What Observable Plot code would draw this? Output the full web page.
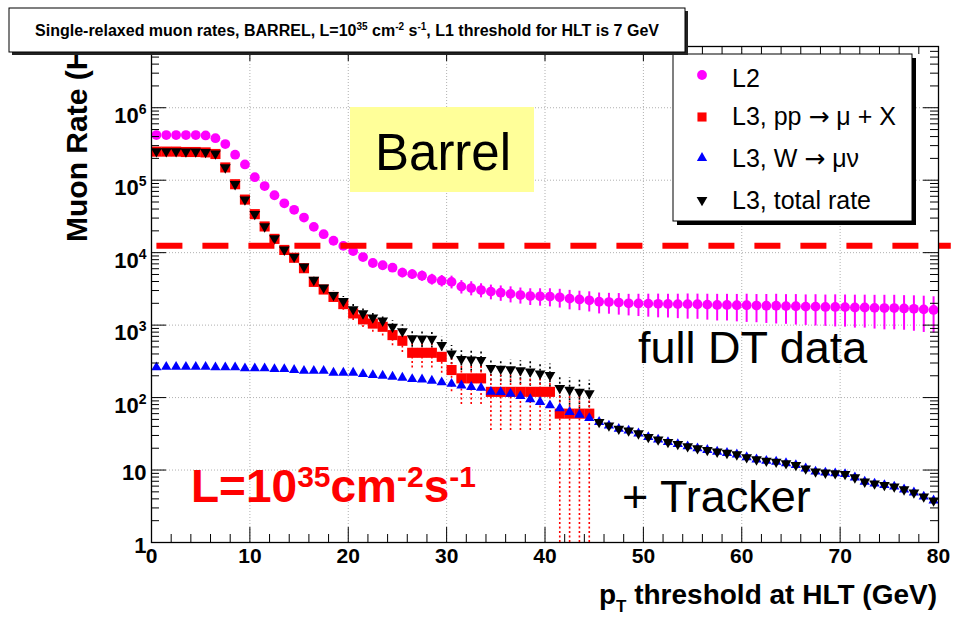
<!DOCTYPE html>
<html><head><meta charset="utf-8">
<script src="https://cdn.jsdelivr.net/npm/d3@7"></script>
<script src="https://cdn.jsdelivr.net/npm/@observablehq/plot@0.6"></script>
<style>
html,body{margin:0;padding:0;background:#fff;}
#chart{width:955px;height:620px;position:relative;}
</style></head><body><div id="chart"></div>
<script>
// ---------- data ----------
const ptBinCenters = [0.5,1.5,2.5,3.5,4.5,5.5,6.5,7.5,8.5,9.5,
  10.5,11.5,12.5,13.5,14.5,15.5,16.5,17.5,18.5,19.5,
  20.5,21.5,22.5,23.5,24.5,25.5,26.5,27.5,28.5,29.5,
  30.5,31.5,32.5,33.5,34.5,35.5,36.5,37.5,38.5,39.5,
  40.5,41.5,42.5,43.5,44.5,45.5,46.5,47.5,48.5,49.5,
  50.5,51.5,52.5,53.5,54.5,55.5,56.5,57.5,58.5,59.5,
  60.5,61.5,62.5,63.5,64.5,65.5,66.5,67.5,68.5,69.5,
  70.5,71.5,72.5,73.5,74.5,75.5,76.5,77.5,78.5,79.5];

// L2 rate (Hz)
const l2Rate = [4.2e5,4.2e5,4.2e5,4.2e5,4.2e5,4.15e5,3.8e5,3.15e5,2.25e5,1.65e5,
  1.1e5,8.3e4,6.2e4,4.8e4,3.9e4,3.05e4,2.27e4,1.8e4,1.46e4,1.24e4,
  1.05e4,8.7e3,7.2e3,6.7e3,6.2e3,5.3e3,5.05e3,4.8e3,4.3e3,4.1e3,
  3.95e3,3.4e3,3.25e3,3.05e3,2.9e3,2.8e3,2.7e3,2.6e3,2.52e3,2.5e3,
  2.48e3,2.42e3,2.32e3,2.26e3,2.2e3,2.1e3,2.08e3,2.05e3,2.0e3,1.99e3,
  1.98e3,1.97e3,1.96e3,1.95e3,1.95e3,1.94e3,1.92e3,1.9e3,1.9e3,1.88e3,
  1.88e3,1.86e3,1.85e3,1.85e3,1.83e3,1.82e3,1.8e3,1.8e3,1.78e3,1.78e3,
  1.77e3,1.75e3,1.75e3,1.73e3,1.72e3,1.72e3,1.7e3,1.68e3,1.65e3,1.62e3];
// L2 relative error
const l2RelErr = [0.02,0.02,0.02,0.02,0.02,0.02,0.02,0.02,0.02,0.02,
  0.04,0.05,0.05,0.06,0.06,0.07,0.08,0.09,0.1,0.1,
  0.11,0.12,0.13,0.13,0.14,0.15,0.15,0.16,0.17,0.18,
  0.2,0.21,0.22,0.22,0.23,0.24,0.25,0.25,0.26,0.27,
  0.28,0.29,0.3,0.3,0.31,0.32,0.32,0.33,0.33,0.34,
  0.35,0.36,0.36,0.37,0.38,0.38,0.39,0.4,0.4,0.41,
  0.42,0.42,0.43,0.44,0.44,0.45,0.45,0.46,0.46,0.47,
  0.47,0.48,0.48,0.49,0.5,0.5,0.5,0.51,0.52,0.52];

// L3, pp -> mu + X (bins 0..44)
const ppRate = [2.48e5,2.48e5,2.48e5,2.45e5,2.45e5,2.42e5,2.3e5,1.5e5,8.8e4,5.4e4,
  3.4e4,2.3e4,1.55e4,1.09e4,8.5e3,6.1e3,3.95e3,3.1e3,2.45e3,1.95e3,
  1.45e3,1.2e3,1.05e3,948,728,608,415,415,415,365,
  240,184,184,184,120,120,120,120,120,120,
  120,60,60,60,60];
const ppErr = [3900,3900,3900,3850,3850,3800,3700,3000,2300,1800,
  1430,1170,960,810,710,600,490,430,380,340,
  295,270,250,240,210,190,160,160,160,148,
  120,104,104,104,85,85,85,85,85,85,
  85,60,60,60,60];

// L3, W -> mu nu
const wRate = [261,266,266,266,266,266,261,261,261,253,
  253,253,247,247,240,234,234,234,220,220,
  220,211,204,200,194,188,180,178,171,162,
  155,147,140,136,120,119,113,105,95,87,
  78,71,63,58,52,46,41,37,35,32,
  28.5,26.3,24.3,22.8,21.2,19.9,18.9,17.9,17.2,16.4,
  15.0,14.0,13.4,13.0,12.4,11.7,10.5,9.5,9.2,9.0,
  8.8,7.9,6.9,6.5,6.2,5.9,5.4,4.9,4.3,3.8];

// L3, total rate
const totalRate = [2.5e5,2.5e5,2.5e5,2.48e5,2.48e5,2.45e5,2.33e5,1.5e5,8.8e4,5.4e4,
  3.4e4,2.3e4,1.57e4,1.1e4,8.75e3,6.4e3,4.2e3,3.3e3,2.6e3,2.15e3,
  1.65e3,1.45e3,1.27e3,1.15e3,948,820,655,650,645,530,
  405,340,335,330,255,250,245,238,228,215,
  205,135,128,120,114,46,41,37,35,32,
  28.5,26.3,24.3,22.8,21.2,19.9,18.9,17.9,17.2,16.4,
  15.0,14.0,13.4,13.0,12.4,11.7,10.5,9.5,9.2,9.0,
  8.8,7.9,6.9,6.5,6.2,5.9,5.4,4.9,4.3,3.8];

// dashed threshold line
const thresholdRate = [1.25e4];
const thresholdExtent = [0.55, 81.3];

// axis ticks
const xMajor = [0,10,20,30,40,50,60,70,80];
const yMajor = [1,10,1e2,1e3,1e4,1e5,1e6];
const yTickLabels = ["1","10","10^2","10^3","10^4","10^5","10^6"];
const xMinor = [];
for (let v = 0; v <= 80; v += 2) if (v % 10) xMinor.push(v);
const yMinor = [];
for (const d of yMajor) for (let k = 2; k <= 9; k++) if (d*k <= 7e6) yMinor.push(d*k);

// legend
const legendLabels = [["L2"], ["L3, pp ", "\u2192", " \u03bc + X"], ["L3, W ", "\u2192", " \u03bc\u03bd"], ["L3, total rate"]];
const legendColors = ["#ff00ff", "#ff0000", "#0000ff", "#000000"];

// ---------- tables ----------
const l2Data = l2Rate.map((y, i) => ({x: ptBinCenters[i], y, lo: y*(1-l2RelErr[i]), hi: y*(1+l2RelErr[i])}));
const ppData = ppRate.map((y, i) => ({x: ptBinCenters[i], y, lo: Math.max(y-ppErr[i], 1), hi: y+ppErr[i]}));
const wData = wRate.map((y, i) => ({x: ptBinCenters[i], y}));
const totData = totalRate.map((y, i) => ({x: ptBinCenters[i], y}));
const totErrData = ppErr.map((e, i) => ({x: ptBinCenters[i], lo: Math.max(totalRate[i]-e, 1), hi: totalRate[i]+e}));

// ---------- plot ----------
const W = 955, H = 620, mL = 151, mR = 17, mT = 46, mB = 78;
const fw = W - mL - mR, fh = H - mT - mB;
const font = "'Liberation Sans', Arial, Helvetica, sans-serif";
const gridStyle = {stroke: "#b0b0b0", strokeWidth: 1, strokeDasharray: "1,2"};
const rL2 = 4.9, rPP = 5.7, rW = 3.8, rTot = 4.0;

const svg = Plot.plot({
  width: W, height: H,
  marginLeft: mL, marginRight: mR, marginTop: mT, marginBottom: mB,
  style: {fontFamily: font, background: "white", color: "black", overflow: "visible"},
  x: {domain: [0, 80]},
  y: {type: "log", domain: [1, 7e6]},
  marks: [
    Plot.ruleX(xMajor.slice(1, -1), gridStyle),
    Plot.ruleY(yMajor.slice(1), gridStyle),
    // L2
    Plot.ruleX(l2Data, {x: "x", y1: "lo", y2: "hi", stroke: "#ff00ff", strokeWidth: 2}),
    Plot.dot(l2Data, {x: "x", y: "y", r: rL2, fill: "#ff00ff", symbol: "circle"}),
    // error bars of total and pp
    Plot.ruleX(totErrData, {x: "x", y1: "lo", y2: "hi", stroke: "black", strokeWidth: 1.6, strokeDasharray: "2,2.5"}),
    Plot.ruleX(ppData, {x: "x", y1: "lo", y2: "hi", stroke: "#ff0000", strokeWidth: 1.6, strokeDasharray: "2,2.5"}),
    Plot.dot(ppData, {x: "x", y: "y", r: rPP, fill: "#ff0000", symbol: "square"}),
    Plot.dot(wData, {x: "x", y: "y", r: rW, fill: "#0000ff", symbol: "triangle"}),
    Plot.dot(totData, {x: "x", y: "y", r: rTot, fill: "black", symbol: "triangle", rotate: 180}),
    // threshold
    Plot.ruleY(thresholdRate, {x1: thresholdExtent[0], x2: thresholdExtent[1], stroke: "#ff0000", strokeWidth: 6, strokeDasharray: "26,20"}),
    // ticks (inside, ROOT style) on all four sides
    Plot.ruleY(yMajor, {insetRight: fw - 15, stroke: "black"}),
    Plot.ruleY(yMinor, {insetRight: fw - 8, stroke: "black"}),
    Plot.ruleY(yMajor, {insetLeft: fw - 15, stroke: "black"}),
    Plot.ruleY(yMinor, {insetLeft: fw - 8, stroke: "black"}),
    Plot.ruleX(xMajor, {insetTop: fh - 15, stroke: "black"}),
    Plot.ruleX(xMinor, {insetTop: fh - 8, stroke: "black"}),
    Plot.ruleX(xMajor, {insetBottom: fh - 15, stroke: "black"}),
    Plot.ruleX(xMinor, {insetBottom: fh - 8, stroke: "black"}),
    Plot.frame({stroke: "black", strokeWidth: 1.3}),
    Plot.axisX(xMajor, {tickSize: 0, tickPadding: 6, fontSize: 21, fontWeight: "bold", label: null}),
    Plot.axisY(yMajor, {tickSize: 0, tickPadding: 5, fontSize: 22, fontWeight: "bold", label: null,
      tickFormat: d => yTickLabels[yMajor.indexOf(d)]})
  ]
});
document.getElementById("chart").appendChild(svg);

const s = d3.select(svg);
// superscripts on y tick labels
s.selectAll('g[aria-label="y-axis tick label"] text').each(function() {
  const t = d3.select(this);
  const txt = t.text();
  const m = txt.match(/^10\^(\d+)$/);
  if (m) {
    t.attr("y", 0).text(null);
    t.append("tspan").attr("dy", 15).text("10");
    t.append("tspan").attr("dy", -9).attr("font-size", 14).text(m[1]);
  } else {
    t.attr("y", 10);
  }
});

const ann = s.append("g").attr("font-family", font).attr("text-anchor", "start").attr("fill", "black");

// Barrel box
ann.append("rect").attr("x", 350).attr("y", 107).attr("width", 184).attr("height", 85).attr("fill", "#ffff99");
ann.append("text").attr("x", 375).attr("y", 170).attr("font-size", 51).text("Barrel");
ann.append("text").attr("x", 638).attr("y", 363).attr("font-size", 45).text("full DT data");
ann.append("text").attr("x", 622).attr("y", 512).attr("font-size", 45).text("+ Tracker");

// luminosity
const lum = ann.append("text").attr("x", 191).attr("y", 502).attr("font-size", 46)
  .attr("font-weight", "bold").attr("fill", "#ff0000");
lum.append("tspan").text("L=10");
lum.append("tspan").attr("dy", -15).attr("font-size", 30).text("35");
lum.append("tspan").attr("dy", 15).text("cm");
lum.append("tspan").attr("dy", -15).attr("font-size", 30).text("-2");
lum.append("tspan").attr("dy", 15).text("s");
lum.append("tspan").attr("dy", -15).attr("font-size", 30).text("-1");

// axis titles
const xt = ann.append("text").attr("x", 937).attr("y", 604).attr("text-anchor", "end")
  .attr("font-size", 28).attr("font-weight", "bold");
xt.append("tspan").text("p");
xt.append("tspan").attr("dy", 8).attr("font-size", 17).text("T");
xt.append("tspan").attr("dy", -8).text(" threshold at HLT (GeV)");

ann.append("text").attr("transform", "translate(87,242) rotate(-90)")
  .attr("font-size", 30).attr("font-weight", "bold").text("Muon Rate (Hz)");

// legend
const lg = ann.append("g");
lg.append("rect").attr("x", 677).attr("y", 58).attr("width", 239).attr("height", 167).attr("fill", "black");
lg.append("rect").attr("x", 673).attr("y", 54).attr("width", 239).attr("height", 167)
  .attr("fill", "white").attr("stroke", "black").attr("stroke-width", 1);
const legY = [75, 117, 158, 200];
const legBase = [87, 125, 167, 209];
const syms = [d3.symbolCircle, d3.symbolSquare, d3.symbolTriangle, d3.symbolTriangle];
const radii = [rL2, rPP * 0.9, rW, rTot];
legendLabels.forEach((parts, i) => {
  lg.append("path").attr("d", d3.symbol(syms[i], radii[i]*radii[i]*Math.PI)())
    .attr("fill", legendColors[i])
    .attr("transform", `translate(702,${legY[i]})` + (i === 3 ? " rotate(180)" : ""));
  const t = lg.append("text").attr("x", 732).attr("y", legBase[i]).attr("font-size", 25);
  parts.forEach(p => {
    const sp = t.append("tspan").text(p);
    if (p === "\u2192") sp.attr("font-family", "'DejaVu Sans', sans-serif").attr("font-size", 25);
  });
});

// title box
const tb = ann.append("g");
tb.append("rect").attr("x", 12).attr("y", 11).attr("width", 676).attr("height", 44).attr("fill", "#222");
tb.append("rect").attr("x", 9).attr("y", 8).attr("width", 676).attr("height", 44)
  .attr("fill", "white").attr("stroke", "black").attr("stroke-width", 1);
const tt = tb.append("text").attr("x", 347).attr("y", 36).attr("text-anchor", "middle")
  .attr("font-size", 16).attr("font-weight", "bold");
tt.append("tspan").text("Single-relaxed muon rates, BARREL, L=10");
tt.append("tspan").attr("dy", -6).attr("font-size", 10).text("35");
tt.append("tspan").attr("dy", 6).text(" cm");
tt.append("tspan").attr("dy", -6).attr("font-size", 10).text("-2");
tt.append("tspan").attr("dy", 6).text(" s");
tt.append("tspan").attr("dy", -6).attr("font-size", 10).text("-1");
tt.append("tspan").attr("dy", 6).text(", L1 threshold for HLT is 7 GeV");
</script>
</body></html>
